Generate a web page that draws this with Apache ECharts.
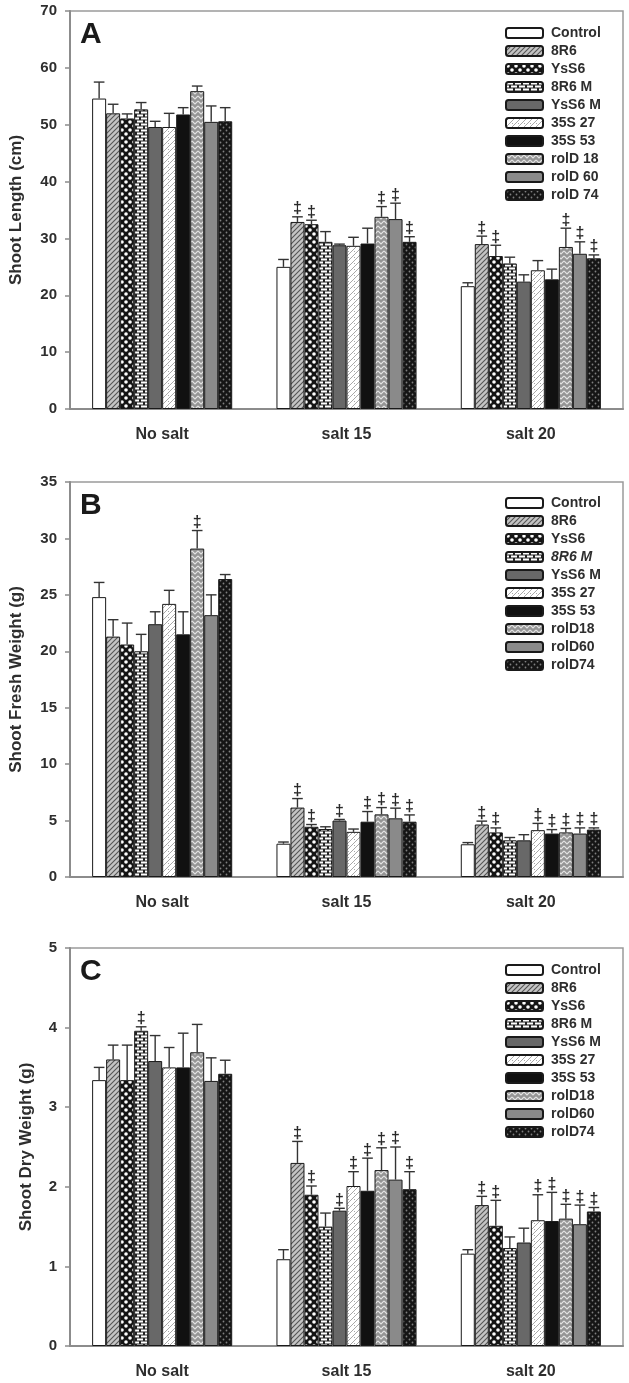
<!DOCTYPE html>
<html>
<head>
<meta charset="utf-8">
<script src="https://cdn.jsdelivr.net/npm/echarts@6/dist/echarts.min.js"></script>
<style>
html,body{margin:0;padding:0;background:#fff;}
#chart{width:629px;height:1383px;}
</style>
</head>
<body>
<div id="chart"></div>
<script>
// ---------- DATA ----------
const categories = ['No salt', 'salt 15', 'salt 20'];

const namesA = ['Control', '8R6', 'YsS6', '8R6 M', 'YsS6 M', '35S 27', '35S 53', 'rolD 18', 'rolD 60', 'rolD 74'];
const namesB = ['Control', '8R6', 'YsS6', '8R6 M', 'YsS6 M', '35S 27', '35S 53', 'rolD18', 'rolD60', 'rolD74'];
const namesC = ['Control', '8R6', 'YsS6', '8R6 M', 'YsS6 M', '35S 27', '35S 53', 'rolD18', 'rolD60', 'rolD74'];
const italicNamesB = ['8R6 M'];

// Panel A: Shoot Length (cm) — one row per line, values for [No salt, salt 15, salt 20]
const lengthMean = [
  [54.6, 25.0, 21.6],
  [52.0, 32.9, 29.0],
  [51.1, 32.5, 26.9],
  [52.7, 29.4, 25.6],
  [49.6, 28.8, 22.4],
  [49.6, 28.7, 24.4],
  [51.8, 29.1, 22.8],
  [55.9, 33.8, 28.5],
  [50.5, 33.4, 27.3],
  [50.6, 29.4, 26.5]
];
const lengthErr = [
  [2.9, 1.3, 0.6],
  [1.6, 0.9, 1.4],
  [0.8, 0.7, 1.9],
  [1.2, 1.8, 1.1],
  [1.0, 0.2, 1.2],
  [2.4, 1.5, 1.7],
  [1.2, 2.7, 1.8],
  [0.9, 1.8, 3.3],
  [2.8, 2.8, 2.1],
  [2.4, 0.9, 0.6]
];
const lengthSig = [
  [0, 0, 0],
  [0, 1, 1],
  [0, 1, 1],
  [0, 0, 0],
  [0, 0, 0],
  [0, 0, 0],
  [0, 0, 0],
  [0, 1, 1],
  [0, 1, 1],
  [0, 1, 1]
];

// Panel B: Shoot Fresh Weight (g)
const freshMean = [
  [24.8, 2.95, 2.9],
  [21.3, 6.15, 4.65],
  [20.6, 4.45, 3.95],
  [20.0, 4.25, 3.25],
  [22.4, 5.0, 3.25],
  [24.2, 4.0, 4.15],
  [21.5, 4.9, 3.85],
  [29.1, 5.55, 3.95],
  [23.2, 5.2, 3.85],
  [26.4, 4.9, 4.2]
];
const freshErr = [
  [1.3, 0.15, 0.15],
  [1.5, 0.8, 0.3],
  [1.9, 0.2, 0.4],
  [1.5, 0.2, 0.25],
  [1.1, 0.1, 0.5],
  [1.2, 0.25, 0.6],
  [2.0, 0.9, 0.35],
  [1.6, 0.6, 0.35],
  [1.8, 0.9, 0.5],
  [0.4, 0.6, 0.15]
];
const freshSig = [
  [0, 0, 0],
  [0, 1, 1],
  [0, 1, 1],
  [0, 0, 0],
  [0, 1, 0],
  [0, 0, 1],
  [0, 1, 1],
  [1, 1, 1],
  [0, 1, 1],
  [0, 1, 1]
];

// Panel C: Shoot Dry Weight (g)
const dryMean = [
  [3.34, 1.09, 1.16],
  [3.60, 2.30, 1.77],
  [3.34, 1.90, 1.51],
  [3.96, 1.50, 1.23],
  [3.58, 1.70, 1.30],
  [3.50, 2.01, 1.58],
  [3.50, 1.95, 1.57],
  [3.69, 2.21, 1.60],
  [3.33, 2.09, 1.53],
  [3.42, 1.97, 1.69]
];
const dryErr = [
  [0.16, 0.12, 0.05],
  [0.18, 0.27, 0.11],
  [0.44, 0.11, 0.32],
  [0.05, 0.17, 0.14],
  [0.32, 0.03, 0.18],
  [0.25, 0.18, 0.32],
  [0.43, 0.41, 0.36],
  [0.35, 0.28, 0.18],
  [0.29, 0.41, 0.24],
  [0.17, 0.22, 0.05]
];
const drySig = [
  [0, 0, 0],
  [0, 1, 1],
  [0, 1, 1],
  [1, 0, 0],
  [0, 1, 0],
  [0, 1, 1],
  [0, 1, 1],
  [0, 1, 1],
  [0, 1, 1],
  [0, 1, 1]
];

const yTicksA = {min: 0, max: 70, interval: 10};
const yTicksB = {min: 0, max: 35, interval: 5};
const yTicksC = {min: 0, max: 5, interval: 1};

// ---------- STYLES ----------
const FONT = 'Liberation Sans, Arial, sans-serif';
const TXT = '#2e2e2e';
const AXC = '#8c8c8c';

function pat(w, h, draw) {
  const c = document.createElement('canvas');
  c.width = w; c.height = h;
  const g = c.getContext('2d');
  draw(g, w, h);
  return {image: c, repeat: 'repeat'};
}
const fills = [
  '#ffffff',
  pat(5, 5, (g) => { g.fillStyle = '#c4c4c4'; g.fillRect(0,0,5,5); g.strokeStyle = '#555'; g.lineWidth = 1.1;
    g.beginPath(); g.moveTo(-1,6); g.lineTo(6,-1); g.moveTo(-1,1); g.lineTo(1,-1); g.moveTo(4,6); g.lineTo(6,4); g.stroke(); }),
  pat(8, 8, (g) => { g.fillStyle = '#141414'; g.fillRect(0,0,8,8); g.fillStyle = '#fff';
    g.beginPath(); g.arc(2,2,1.8,0,Math.PI*2); g.fill(); g.beginPath(); g.arc(6,6,1.8,0,Math.PI*2); g.fill(); }),
  pat(8, 6, (g) => { g.fillStyle = '#222'; g.fillRect(0,0,8,6); g.fillStyle = '#fff';
    g.fillRect(1,0.5,6,2); g.fillRect(5,3.5,6,2); g.fillRect(-3,3.5,6,2); }),
  '#686868',
  pat(6, 6, (g) => { g.fillStyle = '#fff'; g.fillRect(0,0,6,6); g.strokeStyle = '#a8a8a8'; g.lineWidth = 1;
    g.beginPath(); g.moveTo(0,3); g.lineTo(3,0); g.moveTo(3,6); g.lineTo(6,3); g.moveTo(0,5); g.lineTo(1,6); g.stroke(); }),
  '#111111',
  pat(6, 5, (g) => { g.fillStyle = '#959595'; g.fillRect(0,0,6,5); g.strokeStyle = '#e4e4e4'; g.lineWidth = 1.1;
    g.beginPath(); g.moveTo(0,1); g.lineTo(3,4); g.lineTo(6,1); g.stroke(); }),
  '#8a8a8a',
  pat(6, 6, (g) => { g.fillStyle = '#151515'; g.fillRect(0,0,6,6); g.fillStyle = '#808080';
    g.beginPath(); g.arc(1.5,1.5,0.9,0,Math.PI*2); g.fill(); g.beginPath(); g.arc(4.5,4.5,0.9,0,Math.PI*2); g.fill(); })
];

const GAP = 0.24;

const panels = [
  {names: namesA, italic: [], mean: lengthMean, err: lengthErr, sig: lengthSig, ticks: yTicksA, title: 'Shoot Length (cm)', letter: 'A',
   grid: {left: 68, top: 11, right: 6, height: 398}, legendTop: 21, nameGap: 45},
  {names: namesB, italic: italicNamesB, mean: freshMean, err: freshErr, sig: freshSig, ticks: yTicksB, title: 'Shoot Fresh Weight (g)', letter: 'B',
   grid: {left: 68, top: 482, right: 6, height: 395}, legendTop: 491, nameGap: 45},
  {names: namesC, italic: [], mean: dryMean, err: dryErr, sig: drySig, ticks: yTicksC, title: 'Shoot Dry Weight (g)', letter: 'C',
   grid: {left: 70, top: 948, right: 6, height: 398}, legendTop: 958, nameGap: 35}
];

const grid = [], xAxis = [], yAxis = [], series = [], legend = [], title = [];

panels.forEach((p, gi) => {
  grid.push(Object.assign({show: true, borderColor: '#9a9a9a', borderWidth: 1.5, backgroundColor: '#fff'}, p.grid));
  xAxis.push({
    type: 'category', gridIndex: gi, data: categories,
    axisLine: {lineStyle: {color: AXC, width: 2}},
    axisTick: {alignWithLabel: true, length: 5, lineStyle: {color: AXC, width: 1.5}},
    axisLabel: {fontFamily: FONT, fontWeight: 'bold', fontSize: 16, color: TXT, margin: 18}
  });
  yAxis.push({
    type: 'value', gridIndex: gi, min: p.ticks.min, max: p.ticks.max, interval: p.ticks.interval,
    name: p.title, nameLocation: 'middle', nameGap: p.nameGap,
    nameTextStyle: {fontFamily: FONT, fontWeight: 'bold', fontSize: 17, color: TXT},
    axisLine: {show: true, lineStyle: {color: AXC, width: 2}},
    axisTick: {show: true, length: 5, lineStyle: {color: AXC, width: 1.5}},
    axisLabel: {fontFamily: FONT, fontWeight: 'bold', fontSize: 15, color: TXT, margin: 13},
    splitLine: {show: false}
  });
  p.names.forEach((nm, si) => {
    series.push({
      type: 'bar', name: nm, xAxisIndex: gi, yAxisIndex: gi,
      data: p.mean[si],
      barGap: '0%', barCategoryGap: (GAP * 100) + '%',
      itemStyle: {color: fills[si], borderColor: '#1a1a1a', borderWidth: 1},
      emphasis: {disabled: true},
      z: 2
    });
  });
  const errData = [];
  p.mean.forEach((row, si) => row.forEach((v, ci) => errData.push([ci, si, v, v + p.err[si][ci], p.sig[si][ci]])));
  series.push({
    type: 'custom', xAxisIndex: gi, yAxisIndex: gi, z: 5, silent: true,
    data: errData,
    renderItem: function (params, api) {
      const ci = api.value(0), si = api.value(1);
      const base = api.coord([ci, api.value(2)]);
      const top = api.coord([ci, api.value(3)]);
      const band = api.size([1, 0])[0];
      const gw = band * (1 - GAP);
      const bw = gw / 10;
      const x = base[0] - gw / 2 + (si + 0.5) * bw;
      const cap = bw * 0.38;
      const children = [
        {type: 'line', shape: {x1: x, y1: base[1], x2: x, y2: top[1]}, style: {stroke: '#333', lineWidth: 1.4}},
        {type: 'line', shape: {x1: x - cap, y1: top[1], x2: x + cap, y2: top[1]}, style: {stroke: '#333', lineWidth: 1.4}}
      ];
      if (api.value(4)) {
        children.push({type: 'text', x: x, y: top[1],
          style: {text: '‡', fill: '#2a2a2a', font: 'bold 16px ' + FONT, textAlign: 'center', textVerticalAlign: 'bottom'}});
      }
      return {type: 'group', children: children};
    }
  });
  const italics = p.italic;
  legend.push({
    data: p.names, orient: 'vertical', left: 500, top: p.legendTop,
    itemWidth: 37, itemHeight: 10, itemGap: 4, icon: 'roundRect',
    selectedMode: false,
    formatter: function (name) { return italics.indexOf(name) >= 0 ? '{i|' + name + '}' : name; },
    textStyle: {fontFamily: FONT, fontWeight: 'bold', fontSize: 14, lineHeight: 12, color: TXT, padding: [0, 0, 0, 3],
      rich: {i: {fontFamily: FONT, fontWeight: 'bold', fontStyle: 'italic', fontSize: 14, lineHeight: 12, color: TXT}}}
  });
  title.push({text: p.letter, left: 80, top: p.grid.top + 9, padding: 0,
    textStyle: {fontFamily: FONT, fontWeight: 'bold', fontSize: 30, color: '#1a1a1a'}});
});

const chart = echarts.init(document.getElementById('chart'), null, {renderer: 'canvas'});
chart.setOption({
  animation: false,
  backgroundColor: '#fff',
  title: title, grid: grid, xAxis: xAxis, yAxis: yAxis, legend: legend, series: series
});
</script>
</body>
</html>
